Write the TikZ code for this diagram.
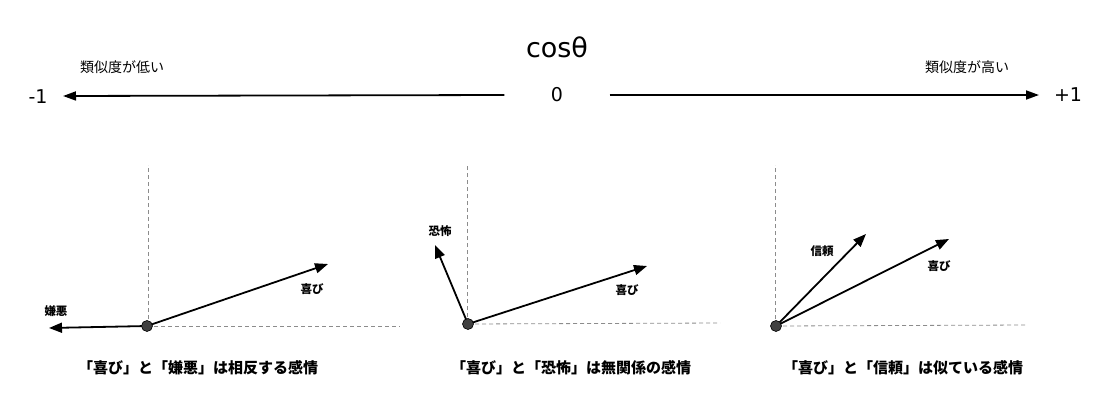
\documentclass[tikz,border=0pt]{standalone}
\usepackage{fontspec}
\setmainfont{DejaVu Sans}
\newfontfamily\jpfont{Noto Sans CJK JP}
\usetikzlibrary{arrows.meta}
\newcommand{\simSize}[0]{14}

\begin{document}
\begin{tikzpicture}[x=1pt,y=-1pt]
  \tikzset{
    axis/.style={line width=1.8pt,-{Triangle[length=13pt,width=9pt]}},
    vec/.style={line width=1.8pt,-{Triangle[length=13pt,width=10pt]}},
    guide/.style={black!45,line width=0.8pt,dash pattern=on 4pt off 3pt},
    origin/.style={circle,fill=black!75,draw=black,line width=0.6pt,minimum size=11pt,inner sep=0pt},
    veclabel/.style={font=\jpfont\bfseries\fontsize{11.5}{12}\selectfont},
    caption/.style={font=\jpfont\bfseries\fontsize{15}{16}\selectfont},
    simlabel/.style={font=\jpfont\fontsize{\simSize}{14}\selectfont},
    numlabel/.style={font=\fontsize{19}{20}\selectfont}
  }
  \useasboundingbox (0,0) rectangle (1112,407);

  \node[font=\fontsize{27}{28}\selectfont] (cos) at (557,47) {cosθ};
  \node[numlabel,minimum width=105pt] (zero) at (557,95) {0};
  \node[numlabel] (minus) at (38,97) {-1};
  \node[numlabel] (plus) at (1068,95) {+1};
  \node[simlabel] (low) at (122,67) {類似度が低い};
  \node[simlabel] (high) at (967,67) {類似度が高い};
  \coordinate (lowend) at (63,96);
  \coordinate (highend) at (1039,95);
  \draw[axis] (zero.west) -- (lowend);
  \draw[axis] (zero.east) -- (highend);

  \coordinate (o1) at (147,326);
  \coordinate (top1) at (148,165);
  \coordinate (right1) at (400,326);
  \coordinate (joy1) at (328,264);
  \coordinate (disgust) at (49,328);
  \draw[guide] (o1 -| top1) -- (top1);
  \draw[guide] (o1) -- (right1);
  \draw[vec] (o1) -- (joy1);
  \draw[vec] (o1) -- (disgust);
  \node[origin] (dot1) at (o1) {};
  \node[veclabel] (joylabel1) at (312,289) {喜び};
  \node[veclabel] (disgustlabel) at (56,311) {嫌悪};
  \node[caption] (cap1) at (198,368) {「喜び」と「嫌悪」は相反する感情};

  \coordinate (o2) at (468,324);
  \coordinate (top2) at (467,165);
  \coordinate (right2) at (720,323);
  \coordinate (joy2) at (647,266);
  \coordinate (fear) at (435,245);
  \draw[guide] (o2 -| top2) -- (top2);
  \draw[guide] (o2) -- (right2);
  \draw[vec] (o2) -- (joy2);
  \draw[vec] (o2) -- (fear);
  \node[origin] (dot2) at (o2) {};
  \node[veclabel] (joylabel2) at (627,290) {喜び};
  \node[veclabel] (fearlabel) at (440,231) {恐怖};
  \node[caption] (cap2) at (571,368) {「喜び」と「恐怖」は無関係の感情};

  \coordinate (o3) at (776,326);
  \coordinate (top3) at (775,165);
  \coordinate (right3) at (1027,325);
  \coordinate (joy3) at (949,239);
  \coordinate (trust) at (866,234);
  \draw[guide] (o3 -| top3) -- (top3);
  \draw[guide] (o3) -- (right3);
  \draw[vec] (o3) -- (joy3);
  \draw[vec] (o3) -- (trust);
  \node[origin] (dot3) at (o3) {};
  \node[veclabel] (joylabel3) at (939,266) {喜び};
  \node[veclabel] (trustlabel) at (822,251) {信頼};
  \node[caption] (cap3) at (903,368) {「喜び」と「信頼」は似ている感情};
\end{tikzpicture}
\end{document}
